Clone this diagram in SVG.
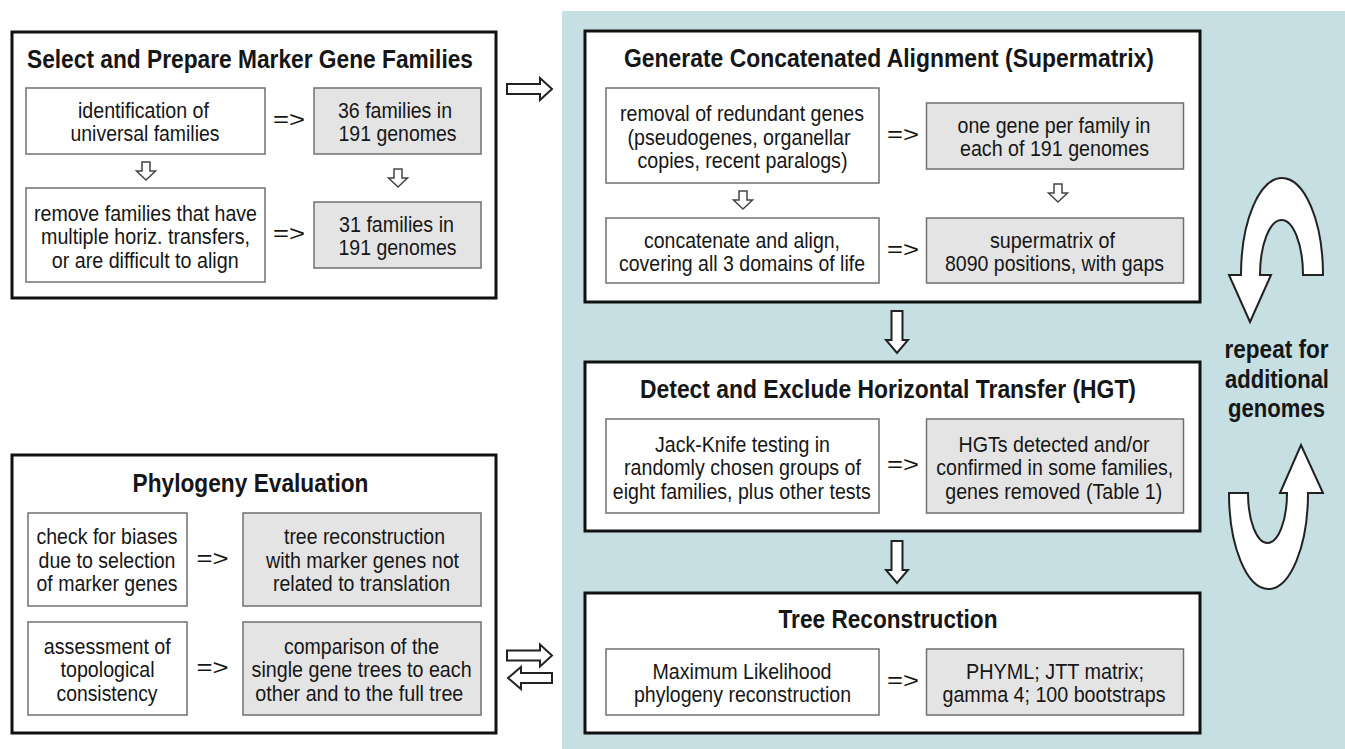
<svg xmlns="http://www.w3.org/2000/svg" xmlns:xlink="http://www.w3.org/1999/xlink" width="1345" height="749" viewBox="0 0 1345 749">
<style>
.bg{fill:#c5dfe3}
.outer{fill:#fff;stroke:#111;stroke-width:3}
.wb{fill:#fff;stroke:#707070;stroke-width:1.5}
.gb{fill:#e4e4e4;stroke:#707070;stroke-width:1.5}
text{font-family:"Liberation Sans",Arial,sans-serif;fill:#161616;text-anchor:middle}
.b{font-size:22.5px}
.h{font-size:26px;font-weight:bold}
.r{font-size:25px;font-weight:bold}
.arr{fill:#fff;stroke:#222;stroke-width:2;stroke-linejoin:miter}
.sarr{fill:#fff;stroke:#444;stroke-width:1.5}
</style>
<defs>
<path id="sdown" d="M-4,0 H4 V9 H9.5 L0,18 L-9.5,9 H-4 Z"/>
<path id="bdown" d="M-5.5,0 H5.5 V29 H11 L0,42 L-11,29 H-5.5 Z"/>
<path id="rarr" d="M0,-5 H33 V-11 L45,0 L33,11 V5 H0 Z"/>
<path id="larr" d="M44,-5 H13 V-11 L0,0 L13,11 V5 H44 Z"/>
</defs>
<rect class="bg" x="562" y="11" width="783" height="738"/>

<g id="select-marker-families">
<rect class="outer" x="12" y="32" width="484" height="266"/>
<text class="h" x="250" y="68" textLength="446" lengthAdjust="spacingAndGlyphs">Select and Prepare Marker Gene Families</text>
<g id="identification">
<rect class="wb" x="26" y="88" width="239" height="66"/>
<text class="b" x="143.5" y="118" textLength="131" lengthAdjust="spacingAndGlyphs">identification of</text>
<text class="b" x="145" y="141" textLength="149" lengthAdjust="spacingAndGlyphs">universal families</text>
</g>
<g id="families36">
<rect class="gb" x="314" y="88" width="167" height="66"/>
<text class="b" x="395" y="118" textLength="114" lengthAdjust="spacingAndGlyphs">36 families in</text>
<text class="b" x="397.5" y="141" textLength="118" lengthAdjust="spacingAndGlyphs">191 genomes</text>
</g>
<g id="remove-families">
<rect class="wb" x="26" y="188" width="239" height="94"/>
<text class="b" x="145.5" y="220.5" textLength="223" lengthAdjust="spacingAndGlyphs">remove families that have</text>
<text class="b" x="145.5" y="244" textLength="209" lengthAdjust="spacingAndGlyphs">multiple horiz. transfers,</text>
<text class="b" x="145.2" y="267.5" textLength="187" lengthAdjust="spacingAndGlyphs">or are difficult to align</text>
</g>
<g id="families31">
<rect class="gb" x="314" y="202" width="167" height="66"/>
<text class="b" x="396.5" y="232" textLength="115" lengthAdjust="spacingAndGlyphs">31 families in</text>
<text class="b" x="397.5" y="255" textLength="118" lengthAdjust="spacingAndGlyphs">191 genomes</text>
</g>
</g>

<g id="phylogeny-evaluation">
<rect class="outer" x="12" y="455" width="484" height="278"/>
<text class="h" x="250.5" y="492" textLength="236" lengthAdjust="spacingAndGlyphs">Phylogeny Evaluation</text>
<g id="check-biases">
<rect class="wb" x="28" y="513" width="159" height="93"/>
<text class="b" x="107" y="544" textLength="141" lengthAdjust="spacingAndGlyphs">check for biases</text>
<text class="b" x="107" y="567.5" textLength="137" lengthAdjust="spacingAndGlyphs">due to selection</text>
<text class="b" x="107" y="591" textLength="141" lengthAdjust="spacingAndGlyphs">of marker genes</text>
</g>
<g id="tree-recon-markers">
<rect class="gb" x="243" y="513" width="238" height="93"/>
<text class="b" x="364.5" y="544" textLength="161" lengthAdjust="spacingAndGlyphs">tree reconstruction</text>
<text class="b" x="362.5" y="567.5" textLength="193" lengthAdjust="spacingAndGlyphs">with marker genes not</text>
<text class="b" x="361.5" y="591" textLength="177" lengthAdjust="spacingAndGlyphs">related to translation</text>
</g>
<g id="assessment">
<rect class="wb" x="28" y="622" width="159" height="93"/>
<text class="b" x="107.3" y="653.5" textLength="127" lengthAdjust="spacingAndGlyphs">assessment of</text>
<text class="b" x="107.5" y="677" textLength="94" lengthAdjust="spacingAndGlyphs">topological</text>
<text class="b" x="107" y="700.5" textLength="101" lengthAdjust="spacingAndGlyphs">consistency</text>
</g>
<g id="comparison">
<rect class="gb" x="243" y="622" width="238" height="93"/>
<text class="b" x="361.5" y="653.5" textLength="155" lengthAdjust="spacingAndGlyphs">comparison of the</text>
<text class="b" x="361.6" y="677" textLength="220" lengthAdjust="spacingAndGlyphs">single gene trees to each</text>
<text class="b" x="359.3" y="700.5" textLength="208" lengthAdjust="spacingAndGlyphs">other and to the full tree</text>
</g>
</g>

<g id="generate-alignment">
<rect class="outer" x="585" y="31" width="615" height="271"/>
<text class="h" x="889" y="67" textLength="530" lengthAdjust="spacingAndGlyphs">Generate Concatenated Alignment (Supermatrix)</text>
<g id="removal-redundant">
<rect class="wb" x="606" y="88" width="273" height="95"/>
<text class="b" x="742" y="121" textLength="244" lengthAdjust="spacingAndGlyphs">removal of redundant genes</text>
<text class="b" x="739" y="144.5" textLength="223" lengthAdjust="spacingAndGlyphs">(pseudogenes, organellar</text>
<text class="b" x="742.5" y="168" textLength="210" lengthAdjust="spacingAndGlyphs">copies, recent paralogs)</text>
</g>
<g id="one-gene">
<rect class="gb" x="926.5" y="103" width="257" height="66"/>
<text class="b" x="1054" y="133" textLength="193" lengthAdjust="spacingAndGlyphs">one gene per family in</text>
<text class="b" x="1054.5" y="156" textLength="189" lengthAdjust="spacingAndGlyphs">each of 191 genomes</text>
</g>
<g id="concatenate">
<rect class="wb" x="606" y="218" width="273" height="65"/>
<text class="b" x="742" y="247.5" textLength="196" lengthAdjust="spacingAndGlyphs">concatenate and align,</text>
<text class="b" x="742" y="270.5" textLength="246" lengthAdjust="spacingAndGlyphs">covering all 3 domains of life</text>
</g>
<g id="supermatrix">
<rect class="gb" x="926.5" y="218" width="257" height="65"/>
<text class="b" x="1052.5" y="247.5" textLength="125" lengthAdjust="spacingAndGlyphs">supermatrix of</text>
<text class="b" x="1054.5" y="270.5" textLength="219" lengthAdjust="spacingAndGlyphs">8090 positions, with gaps</text>
</g>
</g>

<g id="detect-hgt">
<rect class="outer" x="585" y="362" width="615" height="169"/>
<text class="h" x="888" y="398" textLength="496" lengthAdjust="spacingAndGlyphs">Detect and Exclude Horizontal Transfer (HGT)</text>
<g id="jackknife">
<rect class="wb" x="606" y="419" width="273" height="94"/>
<text class="b" x="742.5" y="451.5" textLength="175" lengthAdjust="spacingAndGlyphs">Jack-Knife testing in</text>
<text class="b" x="742.5" y="475" textLength="237" lengthAdjust="spacingAndGlyphs">randomly chosen groups of</text>
<text class="b" x="741.8" y="498.5" textLength="258" lengthAdjust="spacingAndGlyphs">eight families, plus other tests</text>
</g>
<g id="hgts-detected">
<rect class="gb" x="926.5" y="419" width="257" height="94"/>
<text class="b" x="1054" y="451.5" textLength="191" lengthAdjust="spacingAndGlyphs">HGTs detected and/or</text>
<text class="b" x="1054.8" y="475" textLength="237" lengthAdjust="spacingAndGlyphs">confirmed in some families,</text>
<text class="b" x="1053.8" y="498.5" textLength="217" lengthAdjust="spacingAndGlyphs">genes removed (Table 1)</text>
</g>
</g>

<g id="tree-reconstruction">
<rect class="outer" x="585" y="593" width="615" height="140"/>
<text class="h" x="888" y="628" textLength="219" lengthAdjust="spacingAndGlyphs">Tree Reconstruction</text>
<g id="max-likelihood">
<rect class="wb" x="606" y="649" width="273" height="66"/>
<text class="b" x="742" y="679" textLength="179" lengthAdjust="spacingAndGlyphs">Maximum Likelihood</text>
<text class="b" x="742.5" y="702" textLength="217" lengthAdjust="spacingAndGlyphs">phylogeny reconstruction</text>
</g>
<g id="phyml">
<rect class="gb" x="926.5" y="649" width="257" height="66"/>
<text class="b" x="1055" y="679" textLength="178" lengthAdjust="spacingAndGlyphs">PHYML; JTT matrix;</text>
<text class="b" x="1054" y="702" textLength="223" lengthAdjust="spacingAndGlyphs">gamma 4; 100 bootstraps</text>
</g>
</g>

<g id="repeat-label">
<text class="r" x="1276.5" y="358" textLength="104" lengthAdjust="spacingAndGlyphs">repeat for</text>
<text class="r" x="1277" y="388" textLength="104" lengthAdjust="spacingAndGlyphs">additional</text>
<text class="r" x="1276.5" y="417" textLength="97" lengthAdjust="spacingAndGlyphs">genomes</text>
</g>

<g id="connectors">
<text class="b" x="289" y="127" textLength="32" lengthAdjust="spacingAndGlyphs">=&gt;</text>
<text class="b" x="289" y="241" textLength="32" lengthAdjust="spacingAndGlyphs">=&gt;</text>
<text class="b" x="212.5" y="565.5" textLength="32" lengthAdjust="spacingAndGlyphs">=&gt;</text>
<text class="b" x="212.5" y="674.5" textLength="32" lengthAdjust="spacingAndGlyphs">=&gt;</text>
<text class="b" x="903" y="141.5" textLength="32" lengthAdjust="spacingAndGlyphs">=&gt;</text>
<text class="b" x="903" y="256.5" textLength="32" lengthAdjust="spacingAndGlyphs">=&gt;</text>
<text class="b" x="903" y="472" textLength="32" lengthAdjust="spacingAndGlyphs">=&gt;</text>
<text class="b" x="903" y="688" textLength="32" lengthAdjust="spacingAndGlyphs">=&gt;</text>
<use href="#sdown" class="sarr" transform="translate(146,162)"/>
<use href="#sdown" class="sarr" transform="translate(398,169)"/>
<use href="#sdown" class="sarr" transform="translate(743,191)"/>
<use href="#sdown" class="sarr" transform="translate(1058,184)"/>
<use href="#bdown" class="arr" transform="translate(897,311)"/>
<use href="#bdown" class="arr" transform="translate(897,541)"/>
<use href="#rarr" class="arr" transform="translate(507,89)"/>
<use href="#rarr" class="arr" transform="translate(507,655.5)"/>
<use href="#larr" class="arr" transform="translate(508,678)"/>
<path class="arr" d="M1323,275 A41,97 0 0 0 1241,275 H1229 L1250,322 L1271,275 H1260 A21.5,55 0 0 1 1303,275 Z"/>
<path class="arr" d="M1229,493 A39.5,96 0 0 0 1308,493 H1323 L1301,445 L1280,493 H1287 A19.5,50 0 0 1 1248,493 Z"/>
</g>
</svg>
